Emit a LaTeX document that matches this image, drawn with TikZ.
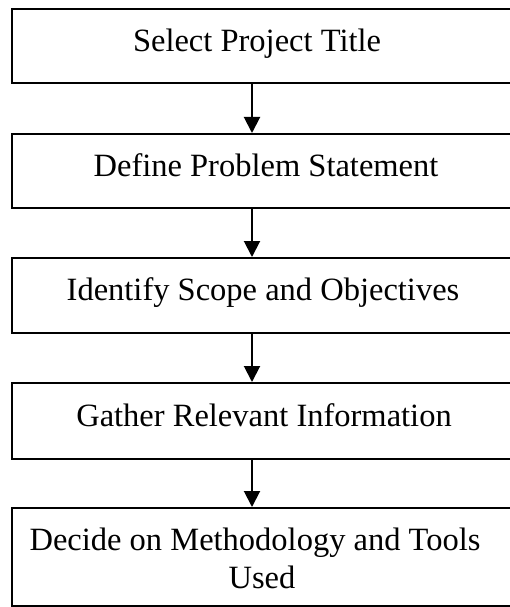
\documentclass[tikz,border=0pt]{standalone}
\usepackage{fontspec}
\setmainfont{Liberation Serif}
\usetikzlibrary{arrows.meta}
\begin{document}
\begin{tikzpicture}[x=1pt,y=-1pt,
  box/.style={draw,line width=2pt,inner sep=0pt,minimum width=506pt},
  lbl/.style={font=\fontsize{32.5}{38}\selectfont,anchor=base,inner sep=0pt},
  conn/.style={line width=2pt,-{Triangle[width=16pt,length=16pt]}}]
\useasboundingbox (0,0) rectangle (509,607);
\node[box,minimum height=74pt] (b1) at (264.5,46) {};
\node[box,minimum height=74pt] (b2) at (264.5,171) {};
\node[box,minimum height=75pt] (b3) at (264.5,295.5) {};
\node[box,minimum height=76pt] (b4) at (264.5,421) {};
\node[box,minimum height=98pt] (b5) at (264.5,557) {};
\node[lbl] (t1) at (257,52) {Select Project Title};
\node[lbl] (t2) at (266,176) {Define Problem Statement};
\node[lbl] (t3) at (263,300) {Identify Scope and Objectives};
\node[lbl] (t4) at (264,426) {Gather Relevant Information};
\node[lbl] (t5a) at (255,550) {Decide on Methodology and Tools};
\node[lbl] (t5b) at (262,588) {Used};
\coordinate (ax) at (252,0);
\draw[conn] (b1.south -| ax) -- (b2.north -| ax);
\draw[conn] (b2.south -| ax) -- (b3.north -| ax);
\draw[conn] (b3.south -| ax) -- (b4.north -| ax);
\draw[conn] (b4.south -| ax) -- (b5.north -| ax);
\end{tikzpicture}
\end{document}
